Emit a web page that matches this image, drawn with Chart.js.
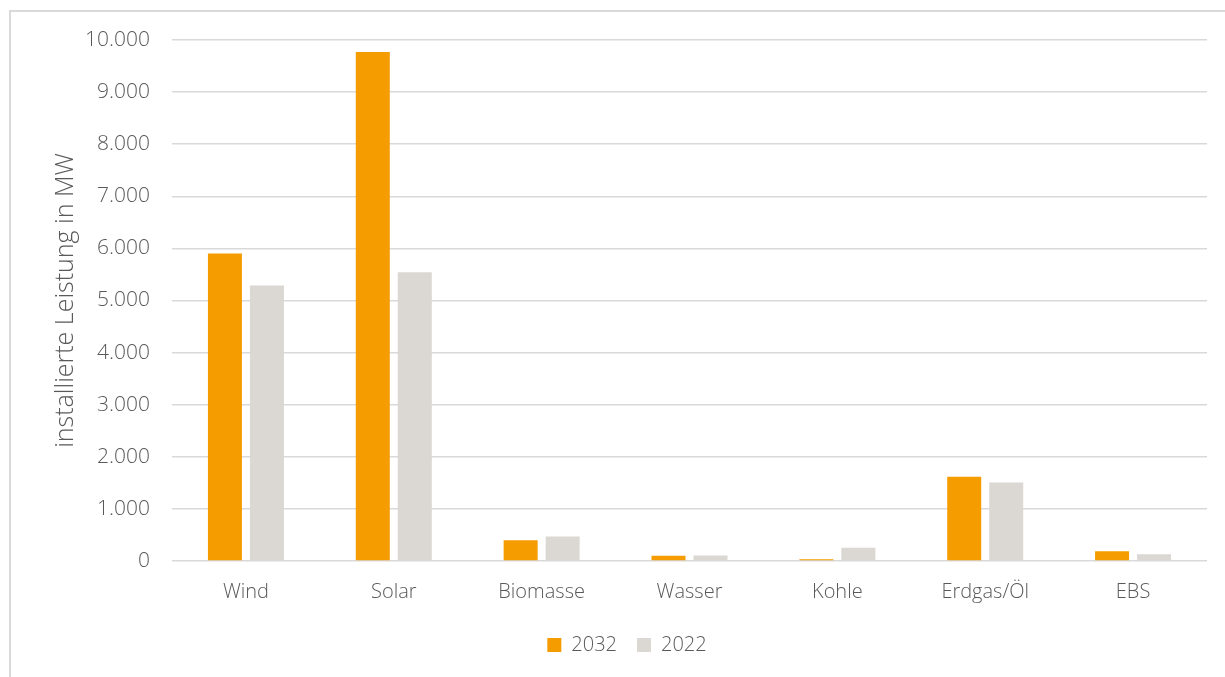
<!DOCTYPE html>
<html>
<head>
<meta charset="utf-8">
<script src="https://cdn.jsdelivr.net/npm/chart.js@4.4.0/dist/chart.umd.min.js"></script>
<style>
  html, body { margin: 0; padding: 0; background: #fff; }
  #rahmen { position: absolute; left: 9px; top: 10px; width: 1300px; height: 700px;
            border-left: 2px solid #d9d9d9; border-top: 2px solid #d9d9d9; }
  #wrap { position: absolute; left: 0; top: 0; width: 1225px; height: 677px; }
</style>
</head>
<body>
<div id="rahmen"></div>
<div id="wrap"><canvas id="grafico"></canvas></div>
<script>
const kategorien = ['Wind', 'Solar', 'Biomasse', 'Wasser', 'Kohle', 'Erdgas/Öl', 'EBS']
const werte2032 = [5900, 9770, 400, 100, 35, 1615, 185]
const werte2022 = [5290, 5540, 470, 105, 255, 1505, 130]
const yTicks = [0, 1000, 2000, 3000, 4000, 5000, 6000, 7000, 8000, 9000, 10000]

const grau = '#595959'
const familie = "'Open Sans', 'DejaVu Sans', sans-serif"
const schrift = { family: familie, size: 20, weight: 300 }
const tickSchrift = { family: familie, size: 21, weight: 300 }
const titelSchrift = { family: familie, size: 25, weight: 300 }

const ctx = document.getElementById('grafico').getContext('2d')

new Chart(ctx, {
    type: 'bar',
    data: {
        labels: kategorien,
        datasets: [
            { label: '2032', data: werte2032, backgroundColor: '#f59c00', borderWidth: 0 },
            { label: '2022', data: werte2022, backgroundColor: '#dbd8d3', borderWidth: 0 }
        ]
    },
    options: {
        responsive: true,
        maintainAspectRatio: false,
        animation: false,
        categoryPercentage: 0.568,
        barPercentage: 0.81,
        layout: { padding: { left: 47, right: 18, top: 40, bottom: 12 } },
        scales: {
            x: {
                grid: { display: false },
                border: { display: false },
                ticks: { color: grau, font: schrift, padding: 11 },
                afterFit: function (scale) { scale.height = 54 }
            },
            y: {
                min: 0,
                max: 10000,
                afterBuildTicks: function (scale) {
                    scale.ticks = yTicks.map(v => ({ value: v }))
                },
                afterFit: function (scale) { scale.width = 125 },
                grid: { color: '#d9d9d9', lineWidth: 1.5, drawTicks: false },
                border: { display: false },
                ticks: {
                    color: grau,
                    font: tickSchrift,
                    padding: 22,
                    callback: v => v.toLocaleString('de-DE')
                },
                title: {
                    display: true,
                    text: 'installierte Leistung in MW',
                    color: grau,
                    font: titelSchrift,
                    padding: { bottom: 0 }
                }
            }
        },
        plugins: {
            legend: {
                position: 'bottom',
                labels: {
                    color: grau,
                    font: schrift,
                    boxWidth: 14,
                    boxHeight: 14,
                    padding: 20
                }
            },
            tooltip: { enabled: false }
        }
    }
})
</script>
</body>
</html>
